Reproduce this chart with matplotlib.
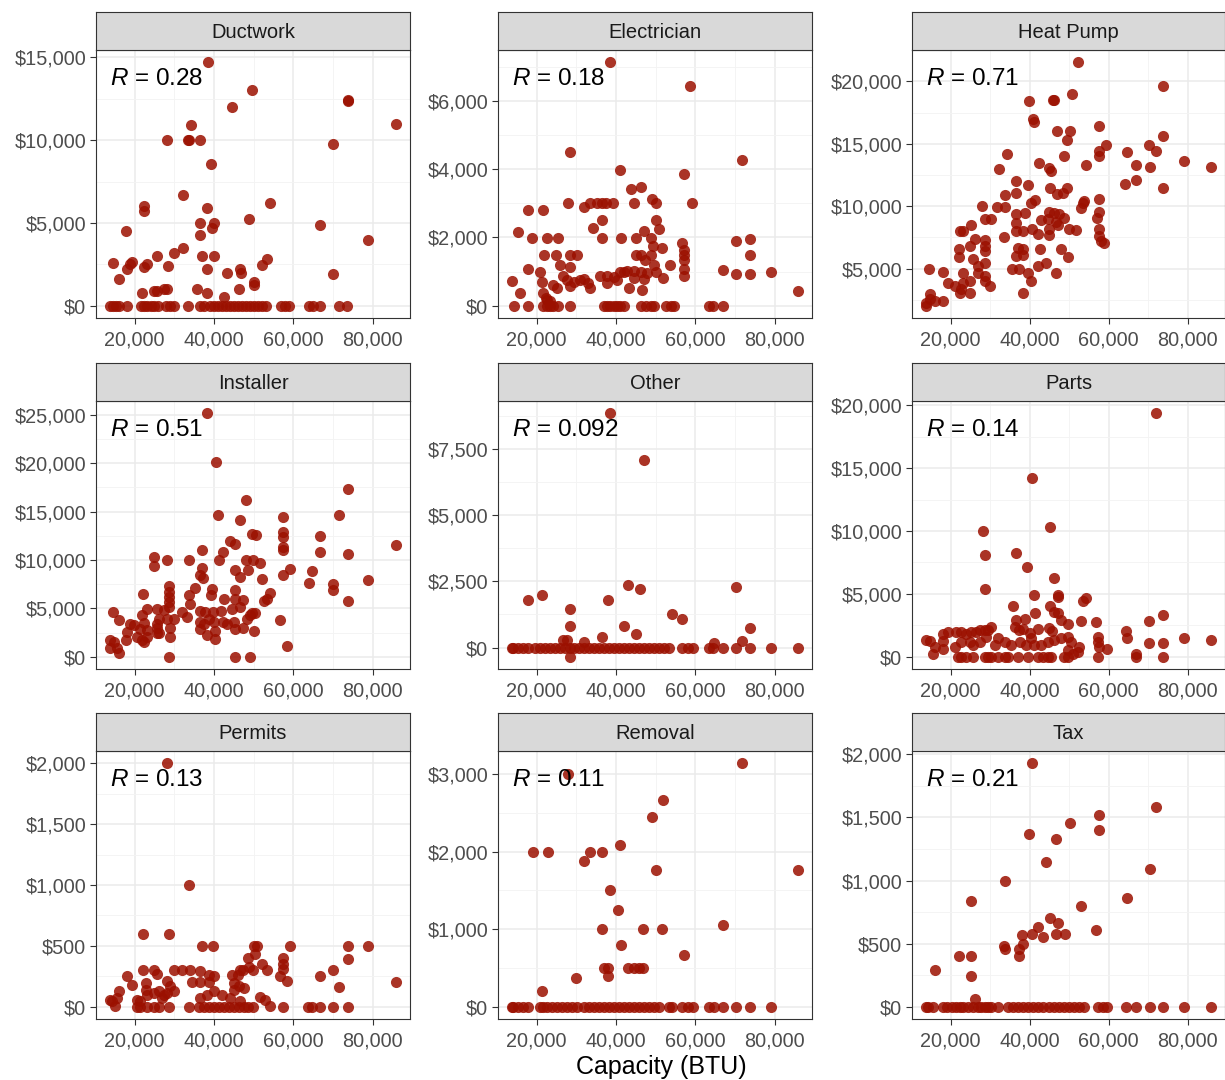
import matplotlib
matplotlib.use("Agg")
import matplotlib.pyplot as plt
from matplotlib.ticker import MultipleLocator, FuncFormatter

plt.rcParams['font.family'] = ['Liberation Sans', 'DejaVu Sans']
plt.rcParams['mathtext.fontset'] = 'custom'
plt.rcParams['mathtext.rm'] = 'Liberation Sans'
plt.rcParams['mathtext.it'] = 'Liberation Sans:italic'

# ---------------- data ----------------
facets = ["Ductwork", "Electrician", "Heat Pump", "Installer", "Other", "Parts",
          "Permits", "Removal", "Tax"]
r_labels = ["0.28", "0.18", "0.71", "0.51", "0.092", "0.14", "0.13", "0.11", "0.21"]
y_steps = [5000, 2000, 5000, 5000, 2500, 5000, 500, 1000, 500]

ductwork_x = [38600, 49500, 44500, 73700, 73800, 34200, 85800, 28100, 33400, 33800, 36500, 70100,
              39300, 32100, 54000, 22300, 22300, 38200, 48700, 36500, 40100, 39500, 66700, 17900,
              36500, 78900, 32200, 30000, 25600, 39900, 37000, 14500, 18900, 19300, 18100, 22300,
              23100, 28500, 38200, 43200, 46600, 46800, 53300, 52000, 70100, 16000, 50000, 50100,
              35700, 24800, 25600, 27300, 28100, 21800, 38200, 46200, 42600,
              13900, 14500, 15200, 16000, 18000, 21500, 22300, 23000, 24000, 25000, 26000, 28000,
              29000, 30000, 33500, 36500, 37500, 39000, 40000, 41000, 42000, 43000, 44000, 45000,
              46000, 47000, 48000, 49000, 50000, 51000, 52000, 53000, 57000, 58000, 59000, 64000,
              65000, 66700, 71500, 73500]
ductwork_y = [14700, 13000, 12000, 12400, 12350, 10900, 11000, 10000, 10000, 10000, 10000, 9750,
              8550, 6700, 6200, 6000, 5700, 5900, 5250, 5000, 5000, 4700, 4900, 4500,
              4300, 4000, 3500, 3200, 3000, 3000, 3000, 2600, 2550, 2650, 2250, 2350,
              2550, 2400, 2200, 2000, 2200, 2000, 2800, 2450, 1900, 1600, 1450, 1250,
              1000, 900, 900, 1000, 1000, 800, 800, 1000, 550,
              0, 0, 0, 0, 0, 0, 0, 0, 0, 0, 0, 0,
              0, 0, 0, 0, 0, 0, 0, 0, 0, 0, 0, 0,
              0, 0, 0, 0, 0, 0, 0, 0, 0, 0, 0, 0,
              0, 0, 0, 0]

electrician_x = [38420, 58530, 28450, 71800, 40960, 57180, 43830, 46200, 27860, 31830, 33350, 35210,
                 36480, 37580, 39270, 44500, 49150, 50000, 59120, 17720, 21690, 36480, 50000, 34200,
                 47040, 50840, 15180, 18900, 22700, 25490, 36480, 41380, 44930, 48730, 49400, 51520,
                 56760, 70280, 73830, 21940, 24820, 28450, 30140, 44930, 46200, 48730, 57180, 57180,
                 57180, 73830, 25920, 28450, 47210, 53630, 17800, 20850, 66900, 79150, 49570, 50000,
                 57180, 57180, 70280, 73830, 26760, 27610, 29300, 30990, 31830, 36060, 37750, 39430,
                 41130, 41970, 42820, 44500, 46200, 47890, 40280, 44500, 47110, 51940, 13900, 21270,
                 32930, 33350, 37750, 24230, 25070, 28450, 43240, 46450, 15770, 21690, 22370, 22540,
                 23380, 85800,
                 14250, 17800, 21690, 22540, 23380, 24230, 25490, 28450, 36900, 37750, 38590, 39430,
                 40280, 41130, 41970, 46200, 47460, 48730, 49570, 52530, 53800, 54650, 63520, 64360,
                 66900]
electrician_y = [7130, 6440, 4490, 4280, 3980, 3860, 3430, 3490, 3000, 2890, 3000, 3000,
                 3000, 3000, 3000, 3000, 3130, 3020, 3000, 2790, 2790, 2500, 2500, 2270,
                 2200, 2240, 2150, 1980, 1980, 1980, 1980, 1980, 1980, 1980, 1740, 1690,
                 1850, 1910, 1950, 1480, 1480, 1480, 1480, 1480, 1480, 1480, 1640, 1490,
                 1350, 1480, 1200, 1150, 1350, 1200, 1080, 1000, 1050, 990, 1200, 1000,
                 1070, 860, 940, 940, 860, 760, 710, 760, 780, 860, 860, 840,
                 980, 1000, 1030, 1030, 1000, 960, 760, 810, 780, 810, 740, 710,
                 660, 520, 660, 610, 520, 570, 520, 470, 370, 370, 240, 180,
                 130, 440,
                 0, 0, 0, 0, 0, 0, 0, 0, 0, 0, 0, 0,
                 0, 0, 0, 0, 0, 0, 0, 0, 0, 0, 0, 0,
                 0]

heatpump_x = [52130, 73700, 39800, 46010, 46260, 50710, 40810, 41230, 57420, 46930, 50200, 49360,
              59270, 70170, 73700, 71850, 57420, 57420, 64720, 34260, 48780, 42480, 54230, 44830,
              45420, 66820, 66820, 70340, 78980, 85800, 32170, 64130, 73700, 36440, 39550, 36440,
              33840, 45170, 46850, 48360, 49360, 40390, 41480, 53390, 53640, 53000, 57420, 28050,
              31830, 33680, 36440, 38880, 57420, 57000, 28640, 30320, 42900, 44580, 44830, 46260,
              47520, 48780, 22350, 23190, 25290, 36440, 36440, 38290, 40560, 42230, 45000, 47100,
              46680, 50030, 51710, 57420, 57420, 58000, 58850, 26120, 28640, 28640, 28640, 33420,
              45000, 22100, 22100, 24870, 36940, 38290, 36440, 38290, 42650, 47940, 49780, 25710,
              26960, 28640, 35610, 37290, 42060, 44160, 14630, 18150, 23190, 26960, 28640, 39550,
              46680, 19410, 21090, 23190, 24870, 22350, 22770, 28640, 30070, 40390, 25030, 38290,
              14800, 13900, 16000, 18150, 13900, 14800]
heatpump_y = [21540, 19650, 18400, 18480, 18480, 18960, 17010, 16750, 16400, 16000, 16000, 15340,
              14940, 14940, 15600, 14400, 14400, 14060, 14320, 14220, 14060, 13470, 13340, 13070,
              12860, 13290, 12140, 13150, 13660, 13130, 12990, 11790, 11470, 12010, 11710, 11020,
              10860, 11470, 10990, 11020, 11420, 10270, 10490, 10270, 10430, 9820, 10540, 10010,
              9930, 9930, 9340, 9480, 9550, 9080, 9000, 8940, 8860, 8940, 9530, 9480,
              9340, 9080, 8010, 8010, 8460, 8680, 8010, 8010, 8140, 7740, 8140, 8460,
              8730, 8200, 8060, 8200, 7610, 7210, 7080, 7400, 7290, 6810, 6410, 7530,
              7660, 6600, 5960, 6810, 6680, 6600, 6010, 6070, 6550, 6600, 5930, 5750,
              5210, 5480, 5000, 5000, 5210, 5480, 5000, 4730, 4680, 4680, 4410, 4680,
              4680, 3880, 3610, 3880, 4010, 3080, 3350, 4010, 3610, 4010, 3080, 3030,
              3000, 2280, 2420, 2420, 2020, 2550]

installer_x = [38200, 40560, 73700, 48110, 40980, 71600, 57340, 46430, 66730, 49530, 50620, 57340,
               57340, 57340, 57340, 44080, 45170, 85800, 36950, 42230, 66730, 73700, 24780, 24950,
               28140, 33590, 41310, 48110, 49780, 51630, 36950, 36530, 37120, 45340, 46600, 48690,
               59180, 57340, 64800, 52050, 78900, 64050, 70090, 70090, 35270, 39470, 39220, 28560,
               28560, 28560, 28560, 28560, 22100, 33590, 34010, 42400, 45340, 45340, 47270, 54150,
               53310, 52720, 73700, 23100, 25620, 27300, 31910, 33170, 36530, 37790, 39630, 41810,
               44500, 46600, 49530, 50370, 14550, 15970, 18910, 19750, 21850, 22260, 26040, 25620,
               28140, 29820, 36360, 37370, 38630, 39880, 42230, 44920, 48270, 49110, 56670, 18070,
               17900, 21430, 23100, 26040, 25620, 28980, 36530, 38200, 40310, 43240, 45340, 47270,
               50120, 13860, 14710, 15550, 15970, 13900, 20590, 21850, 22260, 23100, 25620, 28810,
               40310, 58510, 28730, 45170, 49110]
installer_y = [25170, 20120, 17300, 16230, 14620, 14620, 14410, 14170, 12480, 12660, 12550, 12900,
               12380, 11350, 11070, 11970, 11620, 11520, 11070, 10830, 10830, 10590, 10320, 9350,
               10040, 9970, 9970, 10040, 9970, 9730, 9180, 8490, 8150, 9010, 8250, 8940,
               9040, 8490, 8840, 8010, 7980, 7630, 7570, 6950, 7120, 7050, 6430, 7290,
               6710, 6190, 5670, 5160, 6530, 6430, 5500, 6020, 6880, 6020, 5850, 6600,
               6020, 5740, 5780, 4990, 4990, 4810, 4640, 4130, 4710, 4640, 4640, 4710,
               4990, 5160, 4540, 4570, 4640, 3780, 3340, 3270, 4300, 3510, 3950, 3440,
               3950, 3950, 3610, 3340, 3950, 3610, 3610, 3610, 3950, 4370, 3850, 2580,
               1720, 2920, 2750, 2410, 2990, 2990, 2850, 2300, 2650, 3440, 2920, 2990,
               2650, 1720, 1480, 930, 410, 860, 2060, 1720, 1550, 2060, 2410, 2000,
               1890, 1100, 0, 0, 0]

other_x = [38420, 47040, 43070, 70280, 46030, 21270, 17720, 37910, 28450, 54050, 56590, 28450,
           41970, 73830, 44930, 36480, 26760, 27610, 31830, 71800, 64790, 28450,
           13900, 14090, 15350, 16620, 17890, 19580, 20850, 22110, 23380, 24650, 25920, 27180,
           28450, 29300, 30560, 31830, 33100, 34370, 35630, 36900, 38170, 39440, 40700, 41970,
           43240, 44510, 45770, 47040, 48310, 49580, 50840, 52110, 53380, 56760, 58030, 59290,
           63520, 64360, 66900, 70280, 73830, 79150, 85800]
other_y = [8840, 7080, 2370, 2290, 2190, 1970, 1810, 1810, 1470, 1280, 1090, 800,
           800, 740, 500, 400, 300, 300, 210, 240, 180, -350,
           0, 0, 0, 0, 0, 0, 0, 0, 0, 0, 0, 0,
           0, 0, 0, 0, 0, 0, 0, 0, 0, 0, 0, 0,
           0, 0, 0, 0, 0, 0, 0, 0, 0, 0, 0, 0,
           0, 0, 0, 0, 0, 0, 0]

parts_x = [71850, 40560, 28220, 45250, 28810, 36610, 39380, 46090, 47270, 47270, 28810, 41230,
           53390, 54230, 35770, 45250, 46090, 47100, 41480, 73780, 70170, 52970, 56750, 36440,
           38710, 47940, 49620, 36280, 37200, 38290, 39970, 42230, 44830, 45670, 30320, 29480,
           28640, 64300, 64720, 78980, 57170, 57340, 57590, 59690, 85800, 13900, 14800, 17990,
           19410, 18150, 15640, 16060, 18150, 21510, 22770, 24030, 25290, 26540, 27380, 21090,
           22770, 24870, 25710, 27380, 29060, 31160, 32000, 33680, 35350, 37450, 39130, 40390,
           41230, 42900, 44580, 46260, 47940, 49620, 50460, 52550, 70170, 73780, 66820, 66820,
           52130, 50870, 49620,
           21930, 22770, 24030, 25710, 28640, 29480, 30320, 32000, 33680, 34510, 37030, 39550,
           42060, 43320, 44580, 45420, 48780, 49620, 57340, 73780]
parts_y = [19360, 14170, 10010, 10330, 8080, 8210, 7100, 6280, 4950, 4770, 5380, 4950,
           4420, 4640, 4030, 4050, 3580, 3500, 3500, 3360, 2860, 2860, 2780, 2910,
           2970, 2910, 2570, 2380, 2120, 2200, 1910, 2200, 2300, 2040, 2380, 2120,
           2120, 2040, 1510, 1510, 1590, 1190, 790, 660, 1320, 1320, 1250, 1850,
           1990, 1250, 260, 790, 660, 1990, 1990, 1850, 1990, 1990, 2120, 790,
           1190, 1190, 930, 1190, 1590, 930, 1460, 1190, 930, 1190, 930, 1460,
           930, 930, 1190, 1320, 1460, 1590, 1190, 790, 1110, 1110, 260, 0,
           400, 260, 530,
           0, 0, 0, 0, 0, 0, 0, 0, 0, 0, 0, 0,
           0, 0, 0, 0, 0, 0, 0, 0]

permits_x = [28140, 33590, 22100, 28730, 36950, 39630, 50120, 50790, 59180, 73700, 78900, 48690,
             50370, 57340, 73700, 48940, 52050, 57340, 57340, 22100, 24950, 29820, 31910, 34010,
             25620, 18070, 36530, 38630, 39880, 44500, 45930, 46600, 47270, 49950, 53310, 66730,
             70090, 56670, 58510, 19330, 22850, 22850, 28140, 28980, 29820, 34430, 36530, 38630,
             44920, 46180, 47440, 44920, 71600, 85800, 15970, 13900, 14280, 15130, 15550, 20590,
             21430, 23100, 24780, 26040, 27300, 28140, 26880, 36530, 38200, 39880, 41980, 44080,
             46600, 51630, 52890, 54150,
             20590, 21430, 23100, 24780, 26040, 28730, 33590, 36110, 37370, 38630, 39880, 41140,
             42400, 43660, 44920, 46180, 47440, 48690, 49950, 57340, 63800, 64800, 66730, 70090,
             73700]
permits_y = [2000, 1000, 600, 600, 500, 500, 500, 500, 500, 500, 500, 400,
             430, 400, 390, 330, 350, 350, 310, 300, 300, 300, 300, 300,
             270, 250, 290, 265, 250, 265, 265, 300, 305, 305, 300, 250,
             300, 250, 210, 180, 195, 140, 210, 170, 130, 205, 205, 205,
             195, 170, 155, 140, 165, 205, 130, 60, 45, 5, 75, 60,
             45, 100, 115, 130, 100, 115, 75, 75, 100, 130, 100, 75,
             45, 80, 60, 5,
             0, 0, 0, 0, 0, 0, 0, 0, 0, 0, 0, 0,
             0, 0, 0, 0, 0, 0, 0, 0, 0, 0, 0, 0,
             0]

removal_x = [71800, 28030, 51940, 49150, 40960, 18990, 22790, 33350, 36480, 31830, 50000, 85800,
             38420, 40450, 36480, 46870, 51520, 66900, 41380, 57180, 36900, 38000, 38000, 43070,
             44510, 45770, 46870, 29970, 21270,
             13900, 14090, 15350, 16620, 17890, 20850, 21690, 22540, 23800, 25070, 26340, 27610,
             28870, 30140, 31830, 33100, 34370, 35630, 36900, 38170, 39440, 40700, 41970, 43240,
             44510, 45770, 47040, 48310, 49580, 50840, 53380, 54220, 56760, 58030, 59290, 63520,
             64790, 66900, 70280, 73830, 79150]
removal_y = [3140, 3000, 2670, 2440, 2080, 2000, 2000, 2000, 2000, 1880, 1760, 1760,
             1500, 1250, 1000, 1000, 1000, 1050, 800, 670, 500, 500, 400, 500,
             500, 500, 500, 370, 200,
             0, 0, 0, 0, 0, 0, 0, 0, 0, 0, 0, 0,
             0, 0, 0, 0, 0, 0, 0, 0, 0, 0, 0, 0,
             0, 0, 0, 0, 0, 0, 0, 0, 0, 0, 0, 0,
             0, 0, 0, 0, 0]

tax_x = [40560, 71850, 57420, 57420, 50200, 39800, 46680, 44160, 70340, 33680, 64720, 25120,
         52970, 45170, 47270, 42070, 56750, 38120, 40560, 46680, 48940, 43320, 38290, 33510,
         33840, 37280, 37200, 22100, 25120, 16060, 25120, 26120,
         13900, 14380, 15640, 18150, 18990, 20250, 21510, 22350, 23190, 24450, 25710, 26960,
         27800, 28640, 29480, 30320, 32000, 34510, 35770, 37030, 38290, 39550, 40810, 42060,
         43320, 45000, 46260, 47520, 48780, 50030, 51290, 52550, 53810, 57170, 58430, 59690,
         64300, 66820, 70340, 73780, 78980, 85800]
tax_y = [1930, 1580, 1520, 1400, 1460, 1370, 1330, 1150, 1090, 1000, 860, 840,
         800, 700, 665, 630, 610, 565, 580, 580, 575, 555, 500, 480,
         455, 455, 400, 400, 400, 290, 245, 60,
         0, 0, 0, 0, 0, 0, 0, 0, 0, 0, 0, 0,
         0, 0, 0, 0, 0, 0, 0, 0, 0, 0, 0, 0,
         0, 0, 0, 0, 0, 0, 0, 0, 0, 0, 0, 0,
         0, 0, 0, 0, 0, 0]

series = [(ductwork_x, ductwork_y), (electrician_x, electrician_y), (heatpump_x, heatpump_y),
          (installer_x, installer_y), (other_x, other_y), (parts_x, parts_y),
          (permits_x, permits_y), (removal_x, removal_y), (tax_x, tax_y)]

# ---------------- layout ----------------
W, H = 1225, 1080
fig = plt.figure(figsize=(W / 100, H / 100), dpi=100)
fig.patch.set_facecolor("white")

lefts = [96, 498, 912]
pw = 314
tops = [50, 401, 751]
ph = 268
strip_h = 38

point_color = "#9B1000"
axis_text_color = "#4D4D4D"
border_color = "#333333"

dollar_fmt = FuncFormatter(lambda v, p: "$" + format(int(round(v)), ",") if v >= 0 else "-$" + format(int(round(-v)), ","))
x_fmt = FuncFormatter(lambda v, p: format(int(round(v)), ","))

ax0 = None
for i, name in enumerate(facets):
    r, c = divmod(i, 3)
    left = lefts[c]
    top = tops[r]
    width = min(pw, W - left)
    rect = [left / W, 1 - (top + ph) / H, width / W, ph / H]
    if ax0 is None:
        ax = fig.add_axes(rect)
        ax0 = ax
    else:
        ax = fig.add_axes(rect, sharex=ax0)
    xs, ys = series[i]
    ax.scatter(xs, ys, s=64, color=point_color, alpha=0.85, linewidths=0, zorder=3)
    ax.margins(0.05)
    ax.set_facecolor("white")
    ax.yaxis.set_major_locator(MultipleLocator(y_steps[i]))
    ax.yaxis.set_minor_locator(MultipleLocator(y_steps[i] / 2))
    ax.yaxis.set_major_formatter(dollar_fmt)
    ax.xaxis.set_major_locator(MultipleLocator(20000))
    ax.xaxis.set_minor_locator(MultipleLocator(10000))
    ax.xaxis.set_major_formatter(x_fmt)
    ax.grid(True, which="major", color="#EBEBEB", linewidth=1.1, zorder=0)
    ax.grid(True, which="minor", color="#F3F3F3", linewidth=0.6, zorder=0)
    ax.set_axisbelow(True)
    ax.tick_params(which="major", length=4, width=0.8, color=border_color,
                   labelsize=14.3, labelcolor=axis_text_color, pad=3)
    ax.tick_params(axis="x", which="major", pad=5)
    ax.tick_params(which="minor", length=0)
    ax.tick_params(axis="x", labelbottom=True)
    for sp in ax.spines.values():
        sp.set_color(border_color)
        sp.set_linewidth(0.8)
    ax.text(0.045, 0.89, r"$R$ = " + r_labels[i], transform=ax.transAxes,
            fontsize=17.5, color="black", ha="left", va="center", zorder=5)
    # strip
    srect = [left / W, 1 - top / H, width / W, strip_h / H]
    sax = fig.add_axes(srect)
    sax.set_facecolor("#D9D9D9")
    sax.set_xticks([])
    sax.set_yticks([])
    for sp in sax.spines.values():
        sp.set_color(border_color)
        sp.set_linewidth(0.8)
    sax.text(0.5, 0.46, name, transform=sax.transAxes, ha="center", va="center",
             fontsize=14.5, color="#1A1A1A")

ax0.set_xlim(ax0.get_xlim())
fig.text(661 / W, 1 - 1067 / H, "Capacity (BTU)", ha="center", va="center",
         fontsize=18, color="black")

fig.savefig("out.png", dpi=100, facecolor="white")
